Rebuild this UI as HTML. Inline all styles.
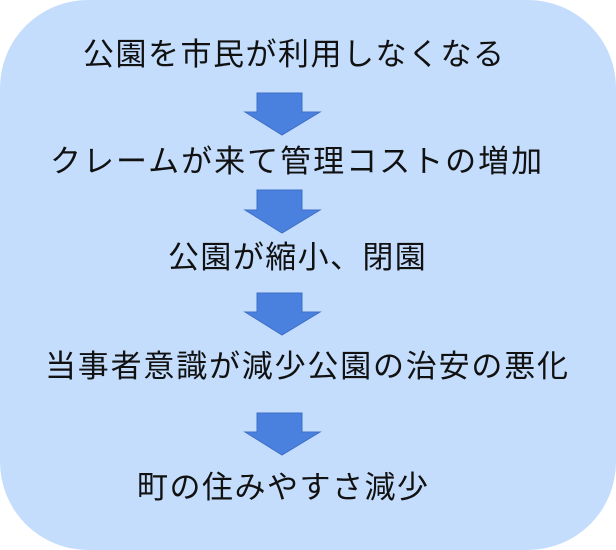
<!DOCTYPE html>
<html><head><meta charset="utf-8"><style>
body{margin:0;width:616px;height:550px;background:#fff;position:relative;overflow:hidden}
.bg{position:absolute;left:0;top:0;width:616px;height:550px;background:#c4ddfc;border-radius:88px}
.t{position:absolute;font-family:"Liberation Sans","Noto Sans CJK JP",sans-serif;font-size:31px;color:#111;white-space:nowrap;line-height:36px}
svg{position:absolute;left:0;top:0}
</style></head><body>
<div class="bg"></div>
<div class="t" style="left:83px;top:37px;letter-spacing:1.5px">公園を市民が利用しなくなる</div>
<div class="t" style="left:50px;top:144px;letter-spacing:2px">クレームが来て管理コストの増加</div>
<div class="t" style="left:168px;top:240px;letter-spacing:1.4px">公園が縮小、閉園</div>
<div class="t" style="left:45px;top:349px;letter-spacing:1.8px">当事者意識が減少公園の治安の悪化</div>
<div class="t" style="left:137px;top:470px;letter-spacing:1.5px">町の住みやすさ減少</div>
<svg width="616" height="550">
<g fill="#4a80de" stroke="#3f6fc6" stroke-width="1">
<polygon points="257,93 302,93 302,112 320,112 282,135 245,112 257,112"/>
<polygon points="257,190 302,190 302,210 320,210 282,233 245,210 257,210"/>
<polygon points="257,293 302,293 302,312 320,312 282,335 245,312 257,312"/>
<polygon points="257,413 302,413 302,432 320,432 282,455 245,432 257,432"/>
</g>
</svg>
</body></html>
